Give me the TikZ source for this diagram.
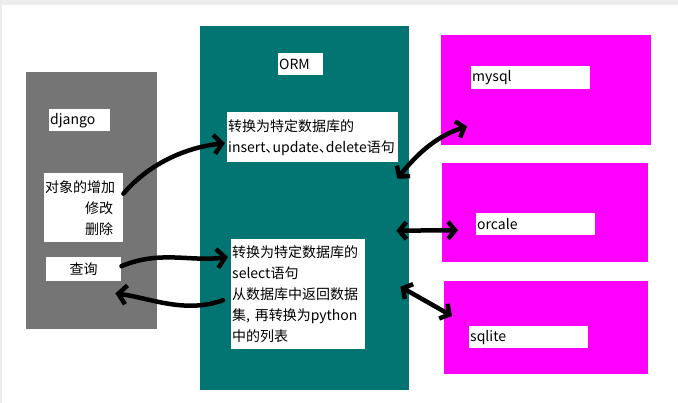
\documentclass[tikz,border=0pt]{standalone}
\usepackage{fontspec}
\setmainfont{Noto Sans CJK SC}
\usetikzlibrary{positioning, calc, arrows.meta}

\definecolor{djgray}{HTML}{757575}
\definecolor{ormteal}{HTML}{027572}
\definecolor{dbpink}{HTML}{FF00FF}

\newcommand{\dun}{{\addfontfeatures{RawFeature=+palt}、}}
\newcommand{\rpad}{\rule{9pt}{0pt}}

\tikzset{
    panel/.style={anchor=north west, inner sep=0pt},
    lbl/.style={fill=white, anchor=north west, inner sep=1pt, align=left,
        font=\fontsize{14}{21}\selectfont},
    arr/.style={line width=4.5pt, line cap=round, line join=round,
        -{Straight Barb[length=8pt,width=19pt]}},
    dbl/.style={line width=4.5pt, line cap=round, line join=round,
        {Straight Barb[length=7pt,width=17pt]}-{Straight Barb[length=7pt,width=17pt]}}
}

\begin{document}
\begin{tikzpicture}[x=1pt, y=-1pt]
    \useasboundingbox (0,0) rectangle (678,403);
    \fill[gray!15] (0,0) rectangle (678,5);
    \fill[gray!15] (0,0) rectangle (2,403);

    % big boxes
    \node[panel, fill=djgray, minimum width=131pt, minimum height=257pt] (dj) at (26,72) {};
    \node[panel, fill=ormteal, minimum width=209pt, minimum height=364pt] (orm) at (200,26) {};
    \node[panel, fill=dbpink, minimum width=210pt, minimum height=110pt] (mysqlbox) at (441,35) {};
    \node[panel, fill=dbpink, minimum width=206pt, minimum height=99pt] (orcalebox) at (442,163) {};
    \node[panel, fill=dbpink, minimum width=204pt, minimum height=93pt] (sqlitebox) at (444,281) {};

    % labels
    \node[lbl, text width=59pt, minimum height=22pt] (djlbl) at (49,109) {django};
    \node[lbl, text width=77pt, minimum height=69pt, align=right] (ops) at (44,173)
        {对象的增加\rpad\\修改\rpad\\删除\rpad};
    \node[lbl, text width=73pt, minimum height=24pt, align=center] (query) at (46,257) {查询};
    \node[lbl, text width=43pt, minimum height=22pt] (ormlbl) at (278,53) {ORM};
    \node[lbl, text width=169pt, minimum height=50pt] (conv) at (227,112)
        {转换为特定数据库的\\insert\dun update\dun delete语句};
    \node[lbl, text width=132pt, minimum height=110pt] (sel) at (231,239)
        {转换为特定数据库的\\select语句\\从数据库中返回数据\\集, 再转换为python\\中的列表};
    \node[lbl, text width=117pt, minimum height=23pt] (mysql) at (471,66) {mysql};
    \node[lbl, text width=117pt, minimum height=22pt] (orcale) at (476,213) {orcale};
    \node[lbl, text width=117pt, minimum height=22pt] (sqlite) at (469,326) {sqlite};

    % django <-> ORM
    \draw[arr] ([yshift=14pt]ops.east) .. controls (145,168) and (180,148) .. ([xshift=-2pt,yshift=-6pt]conv.west);
    \draw[arr] ([yshift=3pt]query.east) .. controls (160,250) and (190,262) .. ([xshift=-3pt,yshift=-18pt]sel.north west);
    \draw[arr] ([xshift=-8pt,yshift=-6pt]sel.west) .. controls (185,314) and (150,298) .. ([xshift=-6pt,yshift=-12pt]query.south east);

    % ORM <-> databases
    \draw[dbl] ([xshift=-12pt,yshift=29.5pt]orm.east) .. controls (420,150) and (440,135) .. ([xshift=26pt,yshift=19pt]mysqlbox.south west);
    \draw[dbl] ([xshift=-13pt,yshift=-22.5pt]orm.east) -- ([xshift=16pt,yshift=-17.5pt]orcalebox.west);
    \draw[dbl] ([xshift=-9pt,yshift=-78.5pt]orm.east) -- ([xshift=8pt,yshift=-35pt]sqlitebox.north west);
\end{tikzpicture}
\end{document}
